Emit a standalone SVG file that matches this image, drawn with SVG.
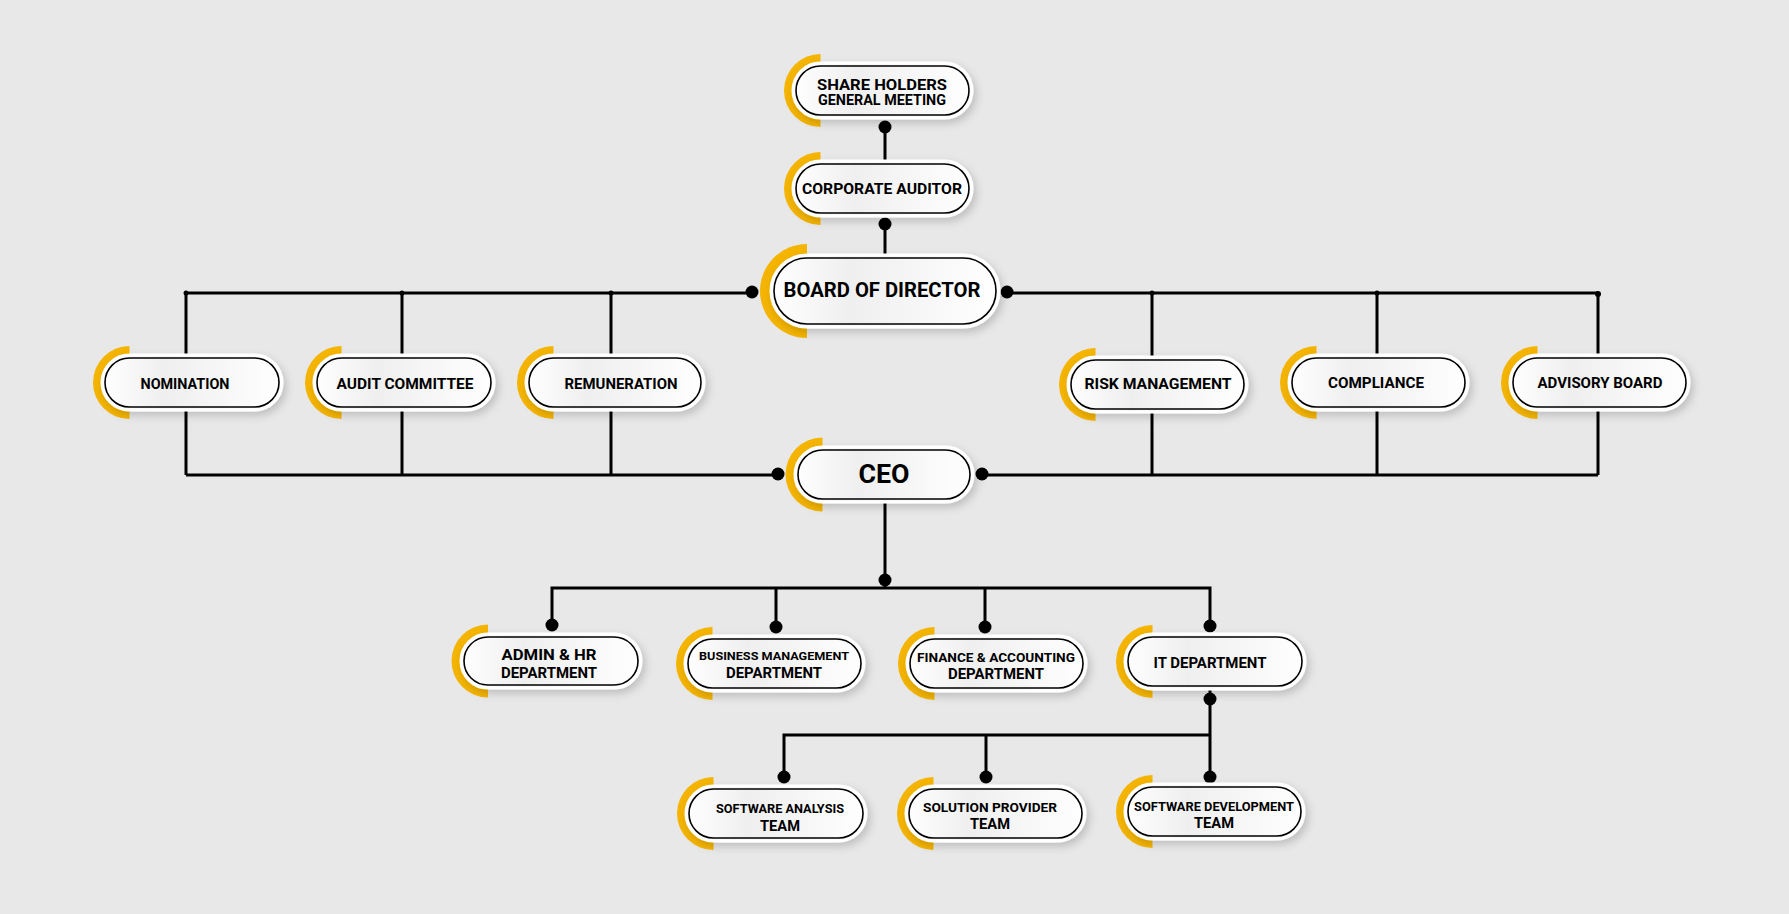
<svg xmlns="http://www.w3.org/2000/svg" width="1789" height="914" viewBox="0 0 1789 914">
<defs>
<linearGradient id="pg" x1="0" y1="0" x2="1" y2="0">
<stop offset="0" stop-color="#ffffff"/>
<stop offset="0.35" stop-color="#efefef"/>
<stop offset="1" stop-color="#ffffff"/>
</linearGradient>
<filter id="sh" x="-10%" y="-30%" width="125%" height="170%">
<feDropShadow dx="3" dy="4" stdDeviation="4" flood-color="#000" flood-opacity="0.18"/>
</filter>
<style>
.acc{fill:#f4b400}
.pill{fill:url(#pg);stroke:#ffffff;stroke-width:3;filter:url(#sh)}
.line{fill:none;stroke:#000;stroke-width:1.6}
.c{fill:none;stroke:#000;stroke-width:3}
.d{fill:#000}
text{font-family:Roboto,"Liberation Sans",sans-serif;font-weight:700;fill:#000;text-anchor:middle}
</style>
</defs>
<rect width="1789" height="914" fill="#e8e8e8"/>
<g id="connectors">
<path class="c" d="M885 127V161M885 224V255"/>
<path class="c" d="M186 293H752M1007 293H1598"/>
<path class="c" d="M186 293V355M402 293V355M611 293V355M1152 293V357M1377 293V355M1598 293V355"/>
<path class="c" d="M186 410V475M402 410V475M611 410V475M1152 412V475M1377 410V475M1598 410V475"/>
<path class="c" d="M186 475H778M982 475H1598"/>
<path class="c" d="M885 502V588M552 625V588H1210V626M776 588V627M985 588V627"/>
<path class="c" d="M1210 689V777M784 777V735H1210M986 735V777"/>
<circle class="d" cx="885" cy="127" r="6.5"/>
<circle class="d" cx="885" cy="224" r="6.5"/>
<circle class="d" cx="752" cy="292" r="6.5"/>
<circle class="d" cx="1007" cy="292" r="6.5"/>
<circle class="d" cx="186" cy="293" r="2.5"/>
<circle class="d" cx="402" cy="293" r="2.5"/>
<circle class="d" cx="611" cy="293" r="2.5"/>
<circle class="d" cx="1152" cy="293" r="2.5"/>
<circle class="d" cx="1377" cy="293" r="2.5"/>
<circle class="d" cx="1598" cy="294" r="3"/>
<circle class="d" cx="778" cy="474" r="6.5"/>
<circle class="d" cx="982" cy="474" r="6.5"/>
<circle class="d" cx="885" cy="580" r="6.5"/>
<circle class="d" cx="552" cy="625" r="6.5"/>
<circle class="d" cx="776" cy="627" r="6.5"/>
<circle class="d" cx="985" cy="627" r="6.5"/>
<circle class="d" cx="1210" cy="626" r="6.5"/>
<circle class="d" cx="1210" cy="699" r="6.5"/>
<circle class="d" cx="784" cy="777" r="6.5"/>
<circle class="d" cx="986" cy="777" r="6.5"/>
<circle class="d" cx="1210" cy="777" r="6.5"/>
</g>
<g id="shareholders">
<path class="acc" d="M820.5 54A36.5 36.5 0 0 0 820.5 127Z"/>
<rect class="pill" x="793" y="63" width="179" height="55" rx="27.5"/>
<rect class="line" x="796" y="66" width="173" height="49" rx="24.5"/>
<text x="882" y="90" font-size="15" textLength="130" lengthAdjust="spacingAndGlyphs">SHARE HOLDERS</text>
<text x="882" y="105" font-size="14" textLength="128" lengthAdjust="spacingAndGlyphs">GENERAL MEETING</text>
</g>
<g id="auditor">
<path class="acc" d="M820.5 152A36.5 36.5 0 0 0 820.5 225Z"/>
<rect class="pill" x="793" y="161" width="179" height="55" rx="27.5"/>
<rect class="line" x="796" y="164" width="173" height="49" rx="24.5"/>
<text x="882" y="194" font-size="15" textLength="160" lengthAdjust="spacingAndGlyphs">CORPORATE AUDITOR</text>
</g>
<g id="board">
<path class="acc" d="M807 244A47 47 0 0 0 807 338Z"/>
<rect class="pill" x="771" y="255" width="228" height="72" rx="36"/>
<rect class="line" x="774" y="258" width="222" height="66" rx="33"/>
<text x="882" y="297" font-size="20" textLength="197" lengthAdjust="spacingAndGlyphs">BOARD OF DIRECTOR</text>
</g>
<g id="nomination">
<path class="acc" d="M129.5 346A36.5 36.5 0 0 0 129.5 419Z"/>
<rect class="pill" x="102" y="355" width="180" height="55" rx="27.5"/>
<rect class="line" x="105" y="358" width="174" height="49" rx="24.5"/>
<text x="185" y="389" font-size="14" textLength="89" lengthAdjust="spacingAndGlyphs">NOMINATION</text>
</g>
<g id="audit">
<path class="acc" d="M341.5 346A36.5 36.5 0 0 0 341.5 419Z"/>
<rect class="pill" x="314" y="355" width="180" height="55" rx="27.5"/>
<rect class="line" x="317" y="358" width="174" height="49" rx="24.5"/>
<text x="405" y="389" font-size="14" textLength="137" lengthAdjust="spacingAndGlyphs">AUDIT COMMITTEE</text>
</g>
<g id="remuneration">
<path class="acc" d="M553.5 346A36.5 36.5 0 0 0 553.5 419Z"/>
<rect class="pill" x="526" y="355" width="178" height="55" rx="27.5"/>
<rect class="line" x="529" y="358" width="172" height="49" rx="24.5"/>
<text x="621" y="389" font-size="14" textLength="113" lengthAdjust="spacingAndGlyphs">REMUNERATION</text>
</g>
<g id="risk">
<path class="acc" d="M1095.5 348A36.5 36.5 0 0 0 1095.5 421Z"/>
<rect class="pill" x="1068" y="357" width="179" height="55" rx="27.5"/>
<rect class="line" x="1071" y="360" width="173" height="49" rx="24.5"/>
<text x="1158" y="389" font-size="14" textLength="147" lengthAdjust="spacingAndGlyphs">RISK MANAGEMENT</text>
</g>
<g id="compliance">
<path class="acc" d="M1316.5 346A36.5 36.5 0 0 0 1316.5 419Z"/>
<rect class="pill" x="1289" y="355" width="179" height="55" rx="27.5"/>
<rect class="line" x="1292" y="358" width="173" height="49" rx="24.5"/>
<text x="1376" y="388" font-size="14" textLength="96" lengthAdjust="spacingAndGlyphs">COMPLIANCE</text>
</g>
<g id="advisory">
<path class="acc" d="M1537.5 346A36.5 36.5 0 0 0 1537.5 419Z"/>
<rect class="pill" x="1510" y="355" width="179" height="55" rx="27.5"/>
<rect class="line" x="1513" y="358" width="173" height="49" rx="24.5"/>
<text x="1600" y="388" font-size="14" textLength="125" lengthAdjust="spacingAndGlyphs">ADVISORY BOARD</text>
</g>
<g id="ceo">
<path class="acc" d="M822.5 437.5A37 37 0 0 0 822.5 511.5Z"/>
<rect class="pill" x="795" y="447" width="178" height="55" rx="27.5"/>
<rect class="line" x="798" y="450" width="172" height="49" rx="24.5"/>
<text x="884" y="483" font-size="25" textLength="51" lengthAdjust="spacingAndGlyphs">CEO</text>
</g>
<g id="admin">
<path class="acc" d="M488 624.5A36.5 36.5 0 0 0 488 697.5Z"/>
<rect class="pill" x="461" y="634" width="180" height="54" rx="27"/>
<rect class="line" x="464" y="637" width="174" height="48" rx="24"/>
<text x="549" y="660" font-size="15" textLength="95" lengthAdjust="spacingAndGlyphs">ADMIN &amp; HR</text>
<text x="549" y="678" font-size="15" textLength="96" lengthAdjust="spacingAndGlyphs">DEPARTMENT</text>
</g>
<g id="business">
<path class="acc" d="M712.5 627A36.5 36.5 0 0 0 712.5 700Z"/>
<rect class="pill" x="685" y="636" width="179" height="55" rx="27.5"/>
<rect class="line" x="688" y="639" width="173" height="49" rx="24.5"/>
<text x="774" y="660" font-size="11.5" textLength="150" lengthAdjust="spacingAndGlyphs">BUSINESS MANAGEMENT</text>
<text x="774" y="678" font-size="15" textLength="96" lengthAdjust="spacingAndGlyphs">DEPARTMENT</text>
</g>
<g id="finance">
<path class="acc" d="M934.5 627A36.5 36.5 0 0 0 934.5 700Z"/>
<rect class="pill" x="907" y="636" width="179" height="55" rx="27.5"/>
<rect class="line" x="910" y="639" width="173" height="49" rx="24.5"/>
<text x="996" y="662" font-size="13.5" textLength="158" lengthAdjust="spacingAndGlyphs">FINANCE &amp; ACCOUNTING</text>
<text x="996" y="679" font-size="15" textLength="96" lengthAdjust="spacingAndGlyphs">DEPARTMENT</text>
</g>
<g id="it">
<path class="acc" d="M1152.5 625A36.5 36.5 0 0 0 1152.5 698Z"/>
<rect class="pill" x="1125" y="634" width="180" height="55" rx="27.5"/>
<rect class="line" x="1128" y="637" width="174" height="49" rx="24.5"/>
<text x="1210" y="668" font-size="15" textLength="113" lengthAdjust="spacingAndGlyphs">IT DEPARTMENT</text>
</g>
<g id="analysis">
<path class="acc" d="M713.5 777A36.5 36.5 0 0 0 713.5 850Z"/>
<rect class="pill" x="686" y="786" width="180" height="55" rx="27.5"/>
<rect class="line" x="689" y="789" width="174" height="49" rx="24.5"/>
<text x="780" y="813" font-size="12" textLength="128" lengthAdjust="spacingAndGlyphs">SOFTWARE ANALYSIS</text>
<text x="780" y="831" font-size="15" textLength="40" lengthAdjust="spacingAndGlyphs">TEAM</text>
</g>
<g id="solution">
<path class="acc" d="M933.5 777A36.5 36.5 0 0 0 933.5 850Z"/>
<rect class="pill" x="906" y="786" width="179" height="55" rx="27.5"/>
<rect class="line" x="909" y="789" width="173" height="49" rx="24.5"/>
<text x="990" y="812" font-size="13.5" textLength="134" lengthAdjust="spacingAndGlyphs">SOLUTION PROVIDER</text>
<text x="990" y="829" font-size="15" textLength="40" lengthAdjust="spacingAndGlyphs">TEAM</text>
</g>
<g id="development">
<path class="acc" d="M1152.5 775A36.5 36.5 0 0 0 1152.5 848Z"/>
<rect class="pill" x="1125" y="784" width="179" height="55" rx="27.5"/>
<rect class="line" x="1128" y="787" width="173" height="49" rx="24.5"/>
<text x="1214" y="811" font-size="12" textLength="160" lengthAdjust="spacingAndGlyphs">SOFTWARE DEVELOPMENT</text>
<text x="1214" y="828" font-size="15" textLength="40" lengthAdjust="spacingAndGlyphs">TEAM</text>
</g>
</svg>
